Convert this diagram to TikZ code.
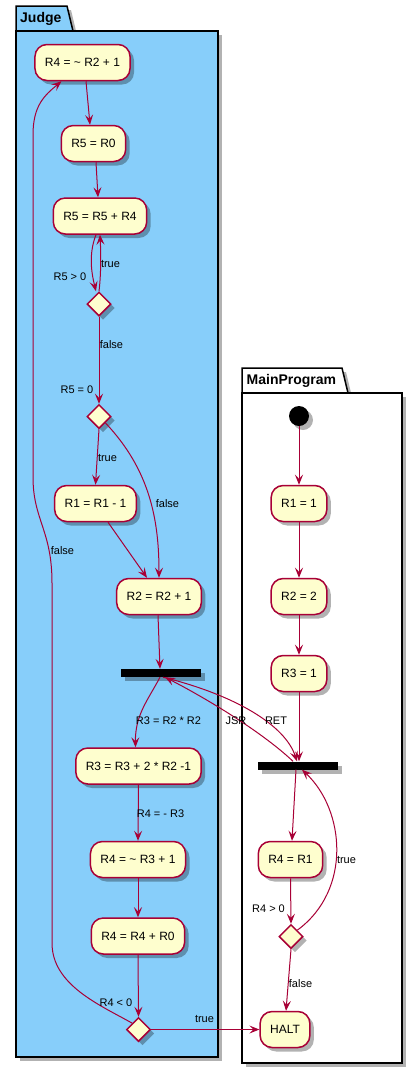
\documentclass[tikz,border=0pt]{standalone}
\usepackage{fontspec}
\setmainfont{Liberation Sans}
\usetikzlibrary{arrows.meta,shapes.geometric,shadows}

\definecolor{judgeblue}{HTML}{87CEFA}
\definecolor{actfill}{HTML}{FEFECE}
\definecolor{actline}{HTML}{A80036}

\begin{document}
\begin{tikzpicture}[x=1pt,y=-1pt,>={Stealth[length=10pt,width=8pt,inset=4pt]},
  dropsh/.style={drop shadow={shadow xshift=4pt,shadow yshift=-4pt,opacity=0.3,fill=black}},
  pkg/.style={draw=black,line width=1.5pt,dropsh},
  act/.style={draw=actline,fill=actfill,line width=1.5pt,rounded corners=12pt,minimum height=36pt,inner xsep=10pt,font=\fontsize{12}{14}\selectfont,dropsh},
  cond/.style={diamond,aspect=1,draw=actline,fill=actfill,line width=1.5pt,minimum width=24pt,minimum height=24pt,inner sep=0pt,dropsh},
  bar/.style={fill=black,minimum width=80pt,minimum height=8pt,inner sep=0pt,dropsh},
  flow/.style={->,draw=actline,line width=1pt},
  lbl/.style={font=\fontsize{11}{13}\selectfont,inner sep=0pt},
  pkgtitle/.style={font=\bfseries\fontsize{14}{16}\selectfont,inner sep=0pt,anchor=west}]
            \useasboundingbox (0,0) rectangle (417,1069);
            % packages
            \draw[pkg,fill=judgeblue] (16,31) -- (16,6) -- (67,6) -- (73,31) -- cycle;
            \draw[pkg,fill=judgeblue] (16,31) rectangle (218,1057);
            \node[pkgtitle] (judge) at (20,19) {Judge};
            \draw[pkg,fill=white] (242,393) -- (242,368) -- (342,368) -- (348,393) -- cycle;
            \draw[pkg,fill=white] (242,393) rectangle (402,1063);
            \node[pkgtitle] (mainprog) at (246.5,381) {MainProgram};
            % Judge
            \node[act] (a1) at (82.5,62.5) {R4 = \textasciitilde{} R2 + 1};
            \node[act] (a2) at (93.5,143.5) {R5 = R0};
            \node[act] (a3) at (100,216) {R5 = R5 + R4};
            \node[cond] (d1) at (99,304) {};
            \node[cond] (d2) at (99,416.5) {};
            \node[act] (b1) at (95.5,503.5) {R1 = R1 - 1};
            \node[act] (b2) at (159,596.5) {R2 = R2 + 1};
            \node[bar] (bar1) at (161,673) {};
            \node[act] (c1) at (138.5,766) {R3 = R3 + 2 * R2 -1};
            \node[act] (c2) at (138,859.5) {R4 = \textasciitilde{} R3 + 1};
            \node[act] (c3) at (138,936) {R4 = R4 + R0};
            \node[cond] (d3) at (138.5,1029.5) {};
            % MainProgram
            \node[circle,fill=black,minimum size=20pt,inner sep=0pt,dropsh] (start) at (299,416) {};
            \node[act] (m1) at (299,503.5) {R1 = 1};
            \node[act] (m2) at (299,596.5) {R2 = 2};
            \node[act] (m3) at (299,673.5) {R3 = 1};
            \node[bar] (bar2) at (298,765.5) {};
            \node[act] (m4) at (290.5,859.5) {R4 = R1};
            \node[cond] (d4) at (291,936.5) {};
            \node[act] (halt) at (285,1029.5) {HALT};
            % connectors
            \draw[flow] ([xshift=3.5pt]a1.south) -- ([xshift=-3.5pt]a2.north);
            \draw[flow] ([xshift=2.5pt]a2.south) -- ([xshift=-2pt]a3.north);
            \draw[flow] ([xshift=-4pt]a3.south) .. controls (88,255) and (92,275) .. ([xshift=-3pt]d1.north);
            \draw[flow] (d1.north) .. controls (101,275) and (101,255) .. (a3.south);
            \draw[flow] (d1.south) -- (d2.north);
            \draw[flow] (d2.south) -- (b1.north);
            \draw[flow] (d2.south east) .. controls (150,470) and (159,520) .. (b2.north);
            \draw[flow] ([xshift=12.5pt]b1.south) -- ([xshift=-12pt]b2.north);
            \draw[flow] ([xshift=-1pt]b2.south) -- ([xshift=-1pt]bar1.north);
            \draw[flow] ([xshift=-1pt]bar1.south) .. controls (148,700) and (135,715) .. ([xshift=-3pt]c1.north);
            \draw[flow] (c1.south) -- (c2.north);
            \draw[flow] (c2.south) -- (c3.north);
            \draw[flow] (c3.south) -- (d3.north);
            \draw[flow] (d3.east) -- (halt.west);
            \draw[flow] (d3.north west) .. controls (100,1005) and (52,985) .. (52,943)
                -- (52,583) .. controls (52,530) and (33,520) .. (33,477)
                -- (33,135) .. controls (33,105) and (45,95) .. ([xshift=-21pt]a1.south);
            \draw[flow] (start) -- (m1);
            \draw[flow] (m1) -- (m2);
            \draw[flow] (m2) -- (m3);
            \draw[flow] (m3.south) -- ([xshift=1pt]bar2.north);
            \draw[flow] ([xshift=2pt]bar1.south) .. controls (235,695) and (285,725) .. ([xshift=-1pt]bar2.north);
            \draw[flow] ([xshift=-5pt]bar2.north) .. controls (260,730) and (200,695) .. ([xshift=4pt]bar1.south);
            \draw[flow] ([xshift=-2pt]bar2.south) -- ([xshift=1.5pt]m4.north);
            \draw[flow] (m4.south) -- (d4.north);
            \draw[flow] (d4.north east) .. controls (352,890) and (345,810) .. ([xshift=4pt]bar2.south);
            \draw[flow] (d4.south) -- ([xshift=1pt]halt.north);
            % labels
            \node[lbl] (l1) at (70,277) {R5 > 0};
            \node[lbl] (l2) at (110.5,264) {true};
            \node[lbl] (l3) at (111.5,345) {false};
            \node[lbl] (l4) at (77,390) {R5 = 0};
            \node[lbl] (l5) at (107.5,458) {true};
            \node[lbl] (l6) at (167.5,504) {false};
            \node[lbl] (l7) at (62.5,551) {false};
            \node[lbl] (l8) at (168.5,721) {R3 = R2 * R2};
            \node[lbl] (l9) at (236,721) {JSR};
            \node[lbl] (l10) at (276,721) {RET};
            \node[lbl] (l11) at (160.5,814) {R4 = - R3};
            \node[lbl] (l12) at (268.5,909) {R4 > 0};
            \node[lbl] (l13) at (346.5,860) {true};
            \node[lbl] (l14) at (300.5,984) {false};
            \node[lbl] (l15) at (116,1003) {R4 < 0};
            \node[lbl] (l16) at (204.5,1019) {true};
        \end{tikzpicture}
\end{document}
